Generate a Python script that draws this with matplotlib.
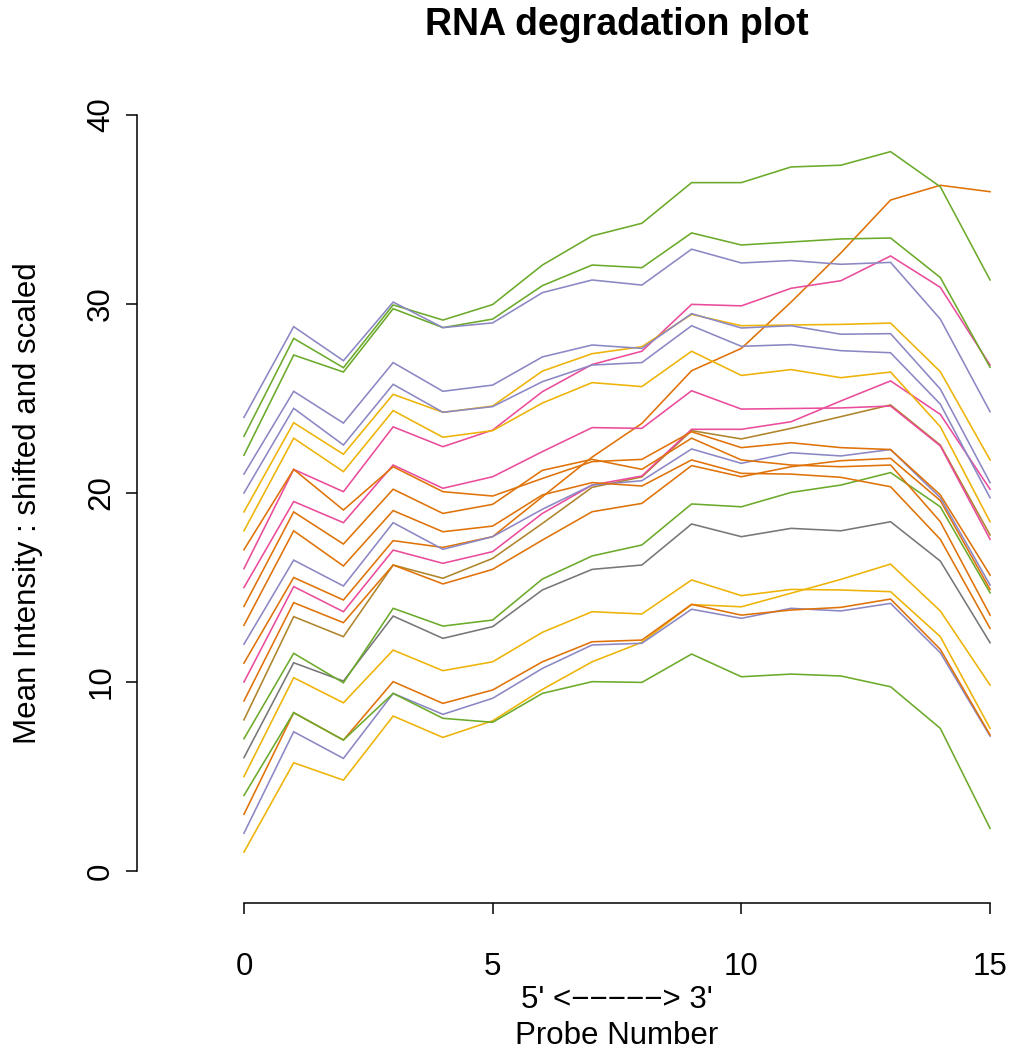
import matplotlib
matplotlib.use("Agg")
import matplotlib.pyplot as plt

# probe positions
probes = list(range(16))

# mean intensities (shifted and scaled), one list per array
s01 = [1, 5.73, 4.81, 8.2, 7.07, 7.95, 9.61, 11.07, 12.1, 14.1, 13.98, 14.7, 15.43, 16.24, 13.76, 9.84]
s02 = [2, 7.37, 5.96, 9.4, 8.29, 9.14, 10.72, 11.96, 12.05, 13.85, 13.37, 13.9, 13.76, 14.16, 11.55, 7.14]
s03 = [3, 8.38, 6.93, 10.02, 8.87, 9.58, 11.07, 12.13, 12.22, 14.11, 13.54, 13.81, 13.95, 14.39, 11.73, 7.2]
s04 = [4, 8.38, 6.93, 9.4, 8.08, 7.87, 9.4, 10.02, 9.98, 11.48, 10.28, 10.42, 10.32, 9.75, 7.55, 2.26]
s05 = [5, 10.23, 8.9, 11.69, 10.6, 11.07, 12.63, 13.72, 13.6, 15.4, 14.57, 14.9, 14.87, 14.78, 12.4, 7.55]
s06 = [6, 11.02, 10.05, 13.49, 12.31, 12.93, 14.87, 15.96, 16.19, 18.36, 17.69, 18.13, 18.0, 18.48, 16.4, 12.08]
s07 = [7, 11.52, 9.96, 13.9, 12.96, 13.28, 15.45, 16.67, 17.25, 19.42, 19.27, 20.03, 20.42, 21.08, 19.27, 14.72]
s08 = [8, 13.46, 12.4, 16.19, 15.49, 16.54, 18.39, 20.3, 20.85, 23.3, 22.86, 23.42, 24.04, 24.66, 22.54, 17.78]
s09 = [9, 14.2, 13.14, 16.19, 15.19, 15.96, 17.51, 19.01, 19.45, 21.45, 20.86, 21.39, 21.71, 21.83, 19.6, 14.9]
s10 = [10, 15.05, 13.72, 16.98, 16.28, 16.9, 18.92, 20.42, 20.9, 23.37, 23.37, 23.77, 24.87, 25.93, 24.16, 20.2]
s11 = [11, 15.53, 14.34, 17.48, 17.12, 17.69, 19.8, 21.9, 23.68, 26.47, 27.65, 30.1, 32.7, 35.5, 36.28, 35.94]
s12 = [12, 16.45, 15.08, 18.43, 17.02, 17.69, 19.14, 20.42, 20.65, 22.33, 21.57, 22.13, 21.96, 22.3, 19.75, 15.13]
s13 = [13, 18.0, 16.14, 19.07, 17.95, 18.25, 19.9, 20.55, 20.37, 21.75, 21.04, 21.0, 20.83, 20.33, 17.55, 12.84]
s14 = [14, 19.0, 17.3, 20.2, 18.92, 19.4, 21.2, 21.78, 21.25, 22.9, 21.75, 21.48, 21.39, 21.48, 18.48, 13.54]
s15 = [15, 19.55, 18.43, 21.48, 20.25, 20.86, 22.19, 23.46, 23.42, 25.41, 24.44, 24.47, 24.5, 24.6, 22.49, 17.55]
s16 = [16, 21.25, 20.07, 23.5, 22.45, 23.33, 25.36, 26.8, 27.5, 29.98, 29.9, 30.83, 31.23, 32.54, 30.88, 26.77]
s17 = [17, 21.25, 19.1, 21.39, 20.07, 19.84, 20.77, 21.66, 21.78, 23.24, 22.4, 22.66, 22.4, 22.3, 19.9, 15.66]
s18 = [18, 22.9, 21.13, 24.36, 22.95, 23.3, 24.76, 25.84, 25.63, 27.5, 26.22, 26.53, 26.1, 26.4, 23.51, 18.48]
s19 = [19, 23.72, 22.05, 25.22, 24.27, 24.6, 26.45, 27.37, 27.74, 29.45, 28.85, 28.89, 28.92, 28.99, 26.42, 21.75]
s20 = [20, 24.48, 22.54, 25.75, 24.27, 24.57, 25.89, 26.77, 26.9, 28.85, 27.76, 27.85, 27.53, 27.42, 24.7, 19.75]
s21 = [21, 25.38, 23.7, 26.9, 25.38, 25.71, 27.2, 27.83, 27.65, 29.49, 28.73, 28.85, 28.4, 28.43, 25.5, 20.55]
s22 = [22, 27.3, 26.4, 29.75, 28.75, 29.2, 30.97, 32.06, 31.92, 33.76, 33.12, 33.28, 33.44, 33.49, 31.4, 26.65]
s23 = [23, 28.18, 26.63, 29.95, 29.15, 29.97, 32.06, 33.6, 34.27, 36.42, 36.42, 37.25, 37.34, 38.06, 36.2, 31.27]
s24 = [24, 28.8, 27.0, 30.1, 28.75, 29.0, 30.6, 31.27, 31.0, 32.9, 32.17, 32.3, 32.1, 32.2, 29.2, 24.3]

series = [s01, s02, s03, s04, s05, s06, s07, s08, s09, s10, s11, s12,
          s13, s14, s15, s16, s17, s18, s19, s20, s21, s22, s23, s24]

GREEN, PURPLE, PINK, ORANGE = "#6BAA2A", "#8B87C4", "#EA4C9B", "#DF7208"
YELLOW, BROWN, GRAY = "#EDB306", "#AF852B", "#777777"
colours = [YELLOW, PURPLE, ORANGE, GREEN, YELLOW, GRAY, GREEN, BROWN, ORANGE, PINK,
           ORANGE, PURPLE, ORANGE, ORANGE, PINK, PINK, ORANGE, YELLOW, YELLOW,
           PURPLE, PURPLE, GREEN, GREEN, PURPLE]

x_ticks = [0, 5, 10, 15]
y_ticks = [0, 10, 20, 30, 40]

plt.rcParams['font.family'] = ['Liberation Sans', 'DejaVu Sans']

W, H = 1013, 1057
fig = plt.figure(figsize=(W / 100, H / 100), dpi=100)
# plot region in pixels: left 137, right 1097, top 97, bottom 903
ax = fig.add_axes([137 / W, 1 - 903 / H, 960 / W, 806 / H])
ax.set_xlim(-2.15, 17.15)
ax.set_ylim(-1.69, 40.95)

for i, (vals, c) in enumerate(zip(series, colours)):
    ax.plot(probes, vals, color=c, lw=1.15, zorder=2 + i * 0.01, solid_joinstyle='miter')

for side in ['top', 'right']:
    ax.spines[side].set_visible(False)
ax.spines['left'].set_bounds(0, 40)
ax.spines['bottom'].set_bounds(0, 15)
for side in ['left', 'bottom']:
    ax.spines[side].set_linewidth(1.1)
ax.set_xticks(x_ticks)
ax.set_yticks(y_ticks)
ax.tick_params(axis='both', direction='out', length=8, width=1.1, labelsize=22.5)
ax.tick_params(axis='x', pad=27)
ax.tick_params(axis='y', pad=7, labelrotation=90)
for lab in ax.get_yticklabels():
    lab.set_va('center')

fig.text(617 / W, 1 - 25 / H, "RNA degradation plot", ha='center', va='center',
         fontsize=27, fontweight='bold')
fig.text(28 / W, 1 - 503 / H, "Mean Intensity : shifted and scaled", ha='center',
         va='center', rotation=90, fontsize=22.5)
fig.text(617 / W, 1 - 1000 / H, "5' <\u2212\u2212\u2212\u2212\u2212> 3'", ha='center',
         va='center', fontsize=22.5)
fig.text(617 / W, 1 - 1036 / H, "Probe Number", ha='center', va='center', fontsize=22.5)

fig.savefig("out.png", dpi=100)
